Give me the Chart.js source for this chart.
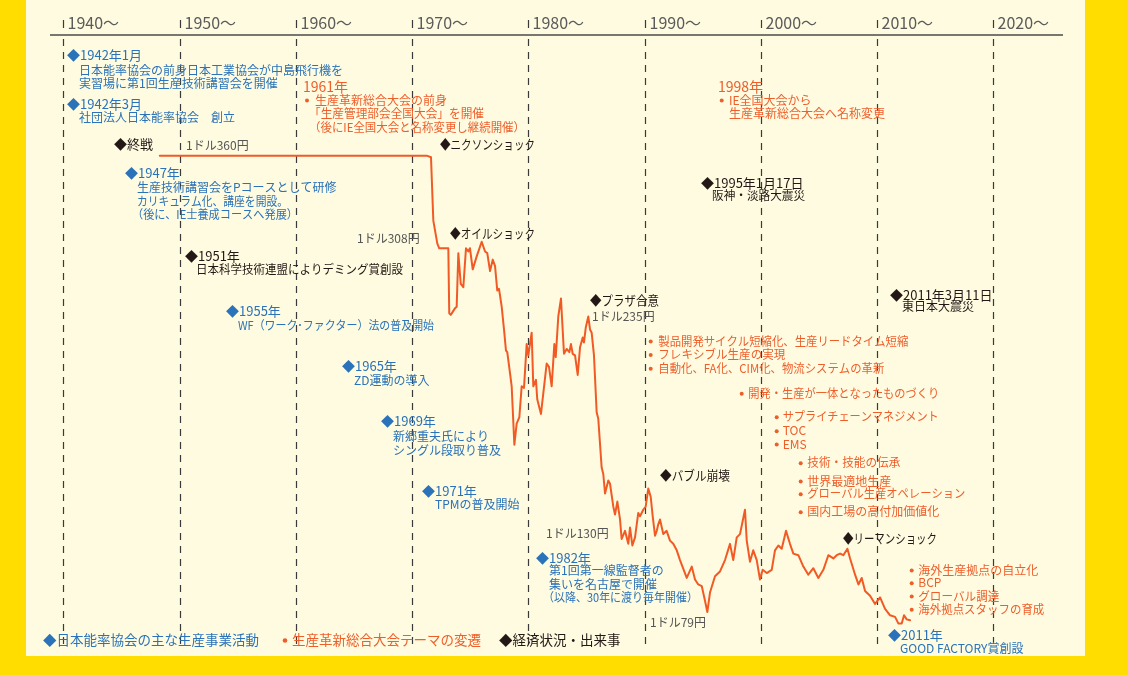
<!DOCTYPE html>
<html><head><meta charset="utf-8">
<script src="https://cdn.jsdelivr.net/npm/chart.js@4.4.1/dist/chart.umd.min.js"></script>
<style>html,body{margin:0;padding:0;background:#FFDD00;}canvas{display:block;}</style>
</head><body>
<canvas id="c" width="1128" height="675"></canvas>
<script>
// ---------- DATA ----------
const decadeTicks = [1940,1950,1960,1970,1980,1990,2000,2010,2020];
const decadeLabels = ['1940～','1950～','1960～','1970～','1980～','1990～','2000～','2010～','2020～'];

// USD/JPY (yen per dollar)
const years = [1948.3,1971.26,1971.63,1971.83,1972.17,1972.34,1973.12,1973.2,1973.33,1973.69,
 1973.84,1973.98,1974.19,1974.41,1974.64,1974.84,1974.98,1975.22,1975.56,1975.99,
 1976.28,1976.47,1976.71,1976.94,1977.14,1977.33,1977.48,1977.71,1977.91,1978.08,
 1978.19,1978.43,1978.57,1978.8,1979.0,1979.23,1979.43,1979.63,1979.86,1980.0,
 1980.29,1980.43,1980.66,1980.77,1981.09,1981.58,1981.78,1982.01,1982.24,1982.36,
 1982.58,1982.81,1983.07,1983.3,1983.53,1983.67,1983.82,1984.02,1984.25,1984.45,
 1984.68,1984.79,1984.94,1985.16,1985.31,1985.45,1985.65,1985.88,1986.02,1986.31,
 1986.45,1986.6,1986.88,1987.03,1987.31,1987.46,1987.66,1987.89,1988.03,1988.32,
 1988.6,1988.75,1988.95,1989.18,1989.46,1989.61,1989.89,1990.1,1990.32,1990.53,
 1990.7,1990.9,1991.05,1991.18,1991.33,1991.61,1991.9,1992.19,1992.47,1992.77,
 1993.05,1993.63,1994.06,1994.34,1994.62,1994.92,1995.2,1995.4,1995.63,1996.06,
 1996.49,1996.92,1997.35,1997.63,1997.93,1998.21,1998.64,1998.79,1999.07,1999.35,
 1999.65,1999.93,2000.16,2000.51,2000.94,2001.22,2001.51,2001.8,2002.17,2002.51,
 2002.8,2003.23,2003.66,2004.09,2004.52,2004.95,2005.38,2005.81,2006.24,2006.53,
 2006.82,2007.1,2007.45,2007.68,2008.11,2008.4,2008.68,2008.97,2009.4,2009.83,
 2010.26,2010.69,2011.12,2011.55,2011.83,2012.12,2012.32,2012.55,2012.84];
const rates = [360,360,359,320,306,303,303,263,262,266,
 267,300,281,279,303,301,303,290,298,307,
 301,300,289,296,292,277,278,267,253,240,
 239,226,218,182,195,199,218,217,244,237,
 251,218,222,210,201,232,230,218,244,236,
 261,272,238,241,239,244,238,237,225,242,
 248,245,254,261,253,251,237,202,198,168,
 164,152,160,158,144,139,147,136,124,129,
 121,131,120,125,140,138,142,144,155,150,
 138,126,129,133,136,127,129,123,121,117,
 111,100,107,99,96,95,86,79,91,101,
 104,111,121,111,125,127,142,123,110,117,
 111,99,105,103,105,117,120,118,129,121,
 115,114,107,102,106,100,105,114,112,114,
 115,114,118,112,102,96,100,92,89,84,
 88,81,77,76,72,72,77,74.5,74];

// ---------- TEXT LAYOUT ----------
const FONT = '"Noto Sans CJK JP","Noto Sans",sans-serif';
const C = {blue:'#2A72B9', orange:'#EE5E2B', black:'#231815', gray:'#555555'};
// [text, x, y, size, color, bulletX, maxWidth]
const notes = [
 ['◆1942年1月',67,55,13,'blue'],
 ['日本能率協会の前身日本工業協会が中島飛行機を',79,70,12,'blue'],
 ['実習場に第1回生産技術講習会を開催',79,83,12,'blue'],
 ['◆1942年3月',67,104,13,'blue'],
 ['社団法人日本能率協会　創立',79,117.5,12,'blue'],
 ['◆1947年',125,173.5,13,'blue'],
 ['生産技術講習会をPコースとして研修',137,187.5,12,'blue'],
 ['カリキュラム化、講座を開設。',137,201,12,'blue',undefined,151],
 ['（後に、IE士養成コースへ発展）',132,214,12,'blue',undefined,166],
 ['◆1955年',226,311,13,'blue'],
 ['WF（ワーク･ファクター）法の普及開始',238,325,12,'blue',undefined,196],
 ['◆1965年',342,366,13,'blue'],
 ['ZD運動の導入',354,380.7,12,'blue'],
 ['◆1969年',381,421.5,13,'blue'],
 ['新郷重夫氏により',393,436,12,'blue'],
 ['シングル段取り普及',393,450,12,'blue'],
 ['◆1971年',422,491,13,'blue'],
 ['TPMの普及開始',435,504.3,12,'blue'],
 ['◆1982年',536,557.7,13,'blue'],
 ['第1回第一線監督者の',549,570.5,12,'blue'],
 ['集いを名古屋で開催',549,584.5,12,'blue'],
 ['（以降、30年に渡り毎年開催）',543,597,12,'blue',undefined,155],
 ['◆2011年',888,635,13,'blue'],
 ['GOOD FACTORY賞創設',900,648,12,'blue'],
 ['◆日本能率協会の主な生産事業活動',43,640,13.5,'blue'],

 ['1961年',303,86.7,14,'orange'],
 ['生産革新総合大会の前身',315,100,12,'orange',307],
 ['「生産管理部会全国大会」を開催',309,113.3,12,'orange',undefined,175],
 ['（後にIE全国大会と名称変更し継続開催）',309,127,12,'orange',undefined,216],
 ['1998年',718,86.7,14,'orange'],
 ['IE全国大会から',729,100,12,'orange',721.7],
 ['生産革新総合大会へ名称変更',729,113.3,12,'orange'],
 ['製品開発サイクル短縮化、生産リードタイム短縮',658.3,341,12,'orange',650.7,250],
 ['フレキシブル生産の実現',658.3,354.5,12,'orange',650.7,127],
 ['自動化、FA化、CIM化、物流システムの革新',658.3,368.3,12,'orange',650.7,226],
 ['開発・生産が一体となったものづくり',748.3,393.3,12,'orange',741.7,191],
 ['サプライチェーンマネジメント',782.7,416.7,12,'orange',776.7,156],
 ['TOC',782.7,430.7,12,'orange',776.7],
 ['EMS',782.7,444,12,'orange',776.7],
 ['技術・技能の伝承',807.3,462.7,12,'orange',800.7,93],
 ['世界最適地生産',807.3,481,12,'orange',800.7],
 ['グローバル生産オペレーション',807.3,493.8,12,'orange',800.7,158],
 ['国内工場の高付加価値化',807.3,511.7,12,'orange',800.7],
 ['海外生産拠点の自立化',918.3,570,12,'orange',911.7],
 ['BCP',918.3,582.8,12,'orange',911.7],
 ['グローバル調達',918.3,596,12,'orange',911.7,81],
 ['海外拠点スタッフの育成',918.3,609.3,12,'orange',911.7,126],
 ['生産革新総合大会テーマの変遷',292,640,13.5,'orange',285],

 ['◆終戦',114,144.3,13,'black'],
 ['◆ニクソンショック',440,144,13,'black',undefined,95],
 ['◆1951年',185,255.7,13,'black'],
 ['日本科学技術連盟によりデミング賞創設',196,269,12,'black',undefined,207],
 ['◆オイルショック',450,233,13,'black',undefined,85],
 ['◆プラザ合意',590,300,13,'black',undefined,69],
 ['◆バブル崩壊',660,475,13,'black',undefined,70],
 ['◆1995年1月17日',701,182.7,13,'black'],
 ['阪神・淡路大震災',712,195,12,'black',undefined,93],
 ['◆2011年3月11日',890,295,13,'black'],
 ['東日本大震災',902,306.7,12,'black'],
 ['◆リーマンショック',843,537.7,13,'black',undefined,94],
 ['◆経済状況・出来事',499,640,13.5,'black'],

 ['1ドル360円',186,145,12,'gray'],
 ['1ドル308円',357,238.3,12,'gray'],
 ['1ドル235円',592,316.5,12,'gray'],
 ['1ドル130円',546,533.3,12,'gray'],
 ['1ドル79円',650,622.3,12,'gray']
];

// ---------- PLUGIN ----------
const decor = {
  id:'decor',
  beforeDraw(chart){
    const ctx = chart.ctx;
    ctx.save();
    ctx.fillStyle = '#FFDD00';
    ctx.fillRect(0,0,chart.width,chart.height);
    ctx.fillStyle = '#FEFBE0';
    ctx.fillRect(26,0,1059,656);
    ctx.restore();
  },
  beforeDatasetsDraw(chart){
    const ctx = chart.ctx, xs = chart.scales.x;
    ctx.save();
    decadeTicks.forEach((d,i)=>{
      const x = Math.round(xs.getPixelForValue(d))+0.5;
      ctx.strokeStyle = '#3a3a3a'; ctx.lineWidth = 1.2;
      ctx.setLineDash([]);
      ctx.beginPath(); ctx.moveTo(x,20); ctx.lineTo(x,28); ctx.stroke();
      ctx.setLineDash([7,6]);
      ctx.beginPath(); ctx.moveTo(x,39); ctx.lineTo(x,646); ctx.stroke();
      ctx.setLineDash([]);
      ctx.font = '16px ' + FONT; ctx.fillStyle = '#5a5a5a';
      ctx.textBaseline = 'middle'; ctx.textAlign = 'left';
      ctx.fillText(decadeLabels[i], x+4, 22.5);
    });
    ctx.strokeStyle = '#4a4a4a'; ctx.lineWidth = 1.6;
    ctx.beginPath(); ctx.moveTo(50,35); ctx.lineTo(1063,35); ctx.stroke();
    ctx.restore();
  },
  afterDatasetsDraw(chart){
    const ctx = chart.ctx;
    ctx.save();
    ctx.textBaseline = 'middle'; ctx.textAlign = 'left';
    notes.forEach(n=>{
      const [t,x,y,s,col,bx,mw] = n;
      ctx.fillStyle = C[col];
      ctx.font = s + 'px ' + FONT;
      if (mw) ctx.fillText(t,x,y,mw); else ctx.fillText(t,x,y);
      if (bx !== undefined){
        ctx.beginPath(); ctx.arc(bx,y+0.5,s>13?2.3:2,0,Math.PI*2); ctx.fill();
      }
    });
    ctx.restore();
  }
};

new Chart(document.getElementById('c'),{
  type:'line',
  data:{datasets:[{
    data: years.map((y,i)=>({x:y,y:rates[i]})),
    borderColor:'#F15A24', borderWidth:2, pointRadius:0, tension:0,
    fill:false, borderJoinStyle:'round', borderCapStyle:'round'
  }]},
  options:{
    responsive:false, animation:false, devicePixelRatio:1,
    layout:{padding:{left:63.3,right:134.7,top:42,bottom:32.1}},
    scales:{
      x:{type:'linear',min:1940,max:2020,display:false},
      y:{type:'linear',min:60,max:430,display:false}
    },
    plugins:{legend:{display:false},tooltip:{enabled:false}}
  },
  plugins:[decor]
});
</script>
</body></html>
